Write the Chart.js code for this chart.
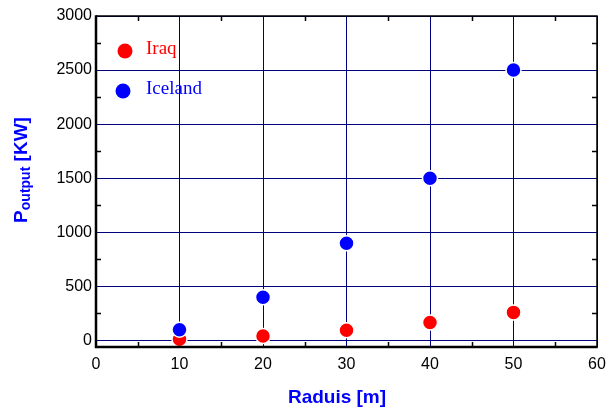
<!DOCTYPE html>
<html>
<head>
<meta charset="utf-8">
<script src="https://cdn.jsdelivr.net/npm/chart.js@4/dist/chart.umd.min.js"></script>
<style>
  html, body { margin: 0; padding: 0; background: #fff; }
  #wrap { width: 606px; height: 414px; position: relative; }
</style>
</head>
<body>
<div id="wrap"><canvas id="c" width="606" height="414"></canvas></div>
<script>
const radius = [10, 20, 30, 40, 50];
const iraq = [12, 42, 94, 166, 260];
const iceland = [100, 400, 900, 1500, 2500];
const xTicks = [0, 10, 20, 30, 40, 50, 60];
const yTicks = [0, 500, 1000, 1500, 2000, 2500, 3000];
const xMinor = [5, 15, 25, 35, 45, 55];
const yMinor = [250, 750, 1250, 1750, 2250, 2750];
const seriesNames = ['Iraq', 'Iceland'];

const NAVY = '#00007f';

const framePlugin = {
  id: 'frame',
  afterDraw(chart) {
    const ctx = chart.ctx;
    const a = chart.chartArea;
    const xs = chart.scales.x, ys = chart.scales.y;
    ctx.save();
    ctx.strokeStyle = '#000';
    ctx.lineWidth = 1.5;
    xMinor.forEach(v => {
      const px = Math.round(xs.getPixelForValue(v)) + 0.5;
      ctx.beginPath();
      ctx.moveTo(px, a.bottom); ctx.lineTo(px, a.bottom - 5);
      ctx.moveTo(px, a.top); ctx.lineTo(px, a.top + 5);
      ctx.stroke();
    });
    yMinor.forEach(v => {
      const py = Math.round(ys.getPixelForValue(v)) + 0.5;
      ctx.beginPath();
      ctx.moveTo(a.left, py); ctx.lineTo(a.left + 5, py);
      ctx.moveTo(a.right, py); ctx.lineTo(a.right - 5, py);
      ctx.stroke();
    });
    ctx.lineWidth = 1.5;
    ctx.beginPath();
    ctx.moveTo(a.left, a.top); ctx.lineTo(a.right, a.top); ctx.lineTo(a.right, a.bottom);
    ctx.stroke();
    ctx.lineWidth = 2.5;
    ctx.beginPath();
    ctx.moveTo(a.left, a.top - 0.75); ctx.lineTo(a.left, a.bottom); ctx.lineTo(a.right + 0.75, a.bottom);
    ctx.stroke();

    const ds = chart.data.datasets;
    const legPos = [{dx: 125, dy: 51, tx: 146, ty: 49}, {dx: 123, dy: 91, tx: 146, ty: 89}];
    ds.forEach((d, i) => {
      const p = legPos[i];
      ctx.beginPath();
      ctx.arc(p.dx, p.dy, 7.5, 0, Math.PI * 2);
      ctx.fillStyle = d.backgroundColor;
      ctx.fill();
      ctx.font = '19px "Liberation Serif", "Times New Roman", serif';
      ctx.textBaseline = 'middle';
      ctx.textAlign = 'left';
      ctx.fillText(d.label, p.tx, p.ty);
    });

    ctx.fillStyle = '#0000ff';
    ctx.font = 'bold 19px "Liberation Sans", Arial, sans-serif';
    ctx.textAlign = 'center';
    ctx.textBaseline = 'middle';
    ctx.fillText('Raduis [m]', 337, 398);

    ctx.save();
    ctx.translate(21, 0);
    ctx.rotate(-Math.PI / 2);
    const big = 'bold 19px "Liberation Sans", Arial, sans-serif';
    const small = 'bold 14px "Liberation Sans", Arial, sans-serif';
    ctx.font = big; const wP = ctx.measureText('P').width;
    ctx.font = small; const wSub = ctx.measureText('output').width;
    ctx.font = big; const wRest = ctx.measureText(' [KW]').width;
    const total = wP + wSub + wRest;
    const cy = 170;
    let x0 = -cy - total / 2;
    ctx.textAlign = 'left';
    ctx.textBaseline = 'alphabetic';
    ctx.font = big; ctx.fillText('P', x0, 6);
    ctx.font = small; ctx.fillText('output', x0 + wP, 9);
    ctx.font = big; ctx.fillText(' [KW]', x0 + wP + wSub, 6);
    ctx.restore();
    ctx.restore();
  }
};

new Chart(document.getElementById('c'), {
  type: 'scatter',
  data: {
    datasets: [
      {
        label: seriesNames[0],
        data: radius.map((r, i) => ({x: r, y: iraq[i]})),
        backgroundColor: '#ff0000',
        pointRadius: 7.5,
        pointBorderWidth: 1.5,
        pointBorderColor: '#ffffff',
        pointBackgroundColor: '#ff0000',
        order: 1
      },
      {
        label: seriesNames[1],
        data: radius.map((r, i) => ({x: r, y: iceland[i]})),
        backgroundColor: '#0000ff',
        pointRadius: 7.5,
        pointBorderWidth: 1.5,
        pointBorderColor: '#ffffff',
        pointBackgroundColor: '#0000ff',
        order: 0
      }
    ]
  },
  options: {
    responsive: false,
    animation: false,
    devicePixelRatio: 1,
    layout: { padding: { top: 16, right: 8, left: 0, bottom: 0 } },
    plugins: {
      legend: { display: false },
      tooltip: { enabled: false },
      title: { display: false }
    },
    scales: {
      x: {
        type: 'linear',
        min: 0, max: 60,
        afterBuildTicks: s => { s.ticks = xTicks.map(v => ({value: v})); },
        afterFit: s => { s.height = 67; s.paddingLeft = 0; s.paddingRight = 0; },
        grid: { color: NAVY, lineWidth: 1, drawTicks: false },
        border: { display: false },
        ticks: {
          color: '#000',
          padding: 8,
          callback: v => String(v),
          font: { family: '"Liberation Sans", Arial, sans-serif', size: 16 },
          maxRotation: 0
        }
      },
      y: {
        type: 'linear',
        min: -60, max: 3000,
        afterBuildTicks: s => { s.ticks = yTicks.map(v => ({value: v})); },
        afterFit: s => { s.width = 96; s.paddingTop = 0; s.paddingBottom = 0; },
        grid: { color: NAVY, lineWidth: 1, drawTicks: false },
        border: { display: false },
        ticks: {
          color: '#000',
          padding: 4,
          callback: v => String(v),
          font: { family: '"Liberation Sans", Arial, sans-serif', size: 16 }
        }
      }
    }
  },
  plugins: [framePlugin]
});
</script>
</body>
</html>
